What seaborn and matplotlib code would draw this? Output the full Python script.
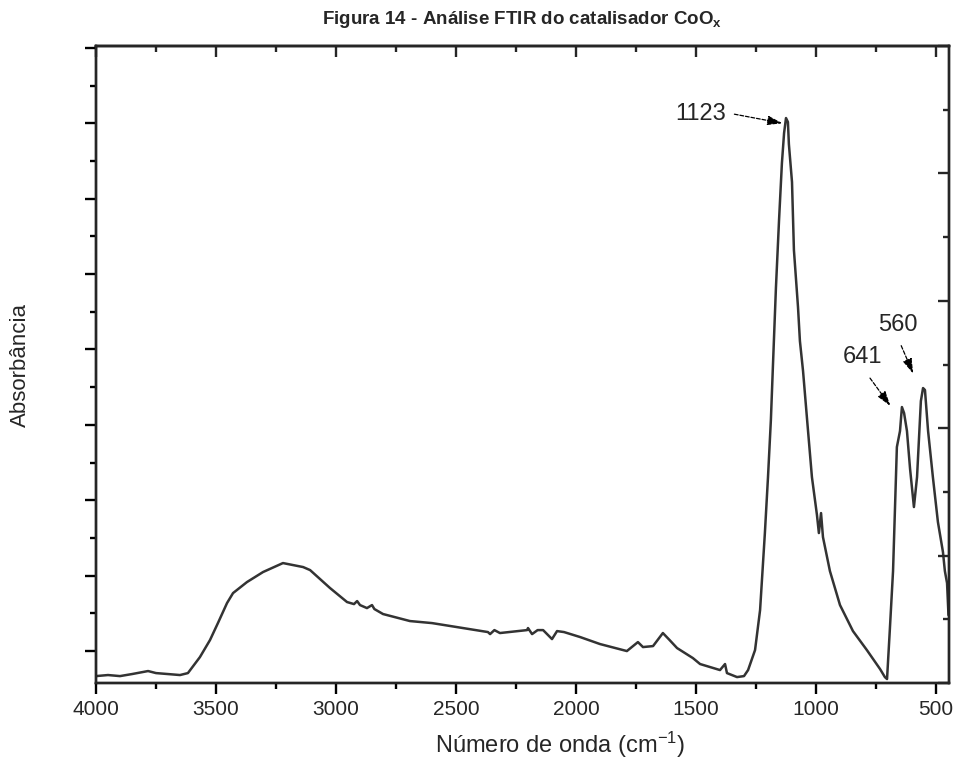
import numpy as np
import pandas as pd
import matplotlib
matplotlib.use("Agg")
import matplotlib.pyplot as plt
from matplotlib.ticker import MultipleLocator, NullFormatter
import seaborn as sns

# Wavenumber (cm-1) and absorbance (arbitrary units)
wavenumber = [4000, 3950, 3900, 3850, 3783, 3750, 3700, 3650, 3617, 3567,
              3525, 3492, 3454, 3429, 3371, 3304, 3221, 3137, 3108, 3025,
              2954, 2925, 2912, 2900, 2871, 2850, 2840, 2804, 2692, 2600,
              2496, 2367, 2358, 2340, 2317, 2204, 2200, 2183, 2160, 2137,
              2100, 2079, 2050, 1983, 1900, 1788, 1742, 1721, 1679, 1638,
              1610, 1579, 1513, 1483, 1400, 1379, 1371, 1329, 1300, 1283,
              1254, 1233, 1213, 1200, 1188, 1179, 1167, 1154, 1142, 1133,
              1125, 1117, 1113, 1100, 1092, 1075, 1067, 1054, 1037, 1017,
              996, 988, 979, 971, 942, 900, 846, 788, 733, 713,
              704, 692, 679, 663, 650, 642, 633, 621, 608, 592,
              579, 571, 563, 554, 546, 533, 513, 492, 471, 463,
              454, 448]
absorbance = [-0.332, -0.318, -0.332, -0.305, -0.265, -0.292, -0.305, -0.318, -0.292, -0.080,
              0.146, 0.371, 0.637, 0.769, 0.915, 1.048, 1.167, 1.114, 1.074, 0.836,
              0.650, 0.623, 0.663, 0.610, 0.570, 0.610, 0.557, 0.491, 0.398, 0.371,
              0.318, 0.252, 0.225, 0.278, 0.239, 0.278, 0.305, 0.225, 0.278, 0.278,
              0.159, 0.265, 0.252, 0.186, 0.093, 0.000, 0.119, 0.053, 0.066, 0.239,
              0.146, 0.040, -0.093, -0.172, -0.252, -0.172, -0.292, -0.345, -0.332, -0.252,
              0.013, 0.544, 1.565, 2.308, 3.064, 3.820, 4.814, 5.716, 6.472, 6.870,
              7.069, 7.016, 6.724, 6.220, 5.318, 4.562, 4.111, 3.714, 3.064, 2.308,
              1.804, 1.565, 1.830, 1.512, 1.061, 0.610, 0.265, 0.013, -0.239, -0.345,
              -0.371, 0.305, 1.061, 2.706, 2.918, 3.236, 3.156, 2.918, 2.414, 1.910,
              2.308, 2.812, 3.316, 3.488, 3.462, 2.918, 2.308, 1.711, 1.313, 1.061,
              0.902, 0.477]

peak_labels = ["1123", "641", "560"]
label_wn = [1480, 808, 658]
label_abs = [7.12, 3.90, 4.33]

xmajor = [4000, 3500, 3000, 2500, 2000, 1500, 1000, 500]

df = pd.DataFrame({"wn": wavenumber, "abs": absorbance})

sns.set_style("ticks")
plt.rcParams["font.family"] = ["Liberation Sans", "DejaVu Sans"]
plt.rcParams["mathtext.fontset"] = "custom"
plt.rcParams["mathtext.rm"] = "Liberation Sans"
plt.rcParams["mathtext.it"] = "Liberation Sans:italic"
plt.rcParams["mathtext.bf"] = "Liberation Sans:bold"

fig = plt.figure(figsize=(9.6, 7.76), dpi=100)
ax = fig.add_axes([0.1, 0.1198, 0.8885, 0.8209])

sns.lineplot(data=df, x="wn", y="abs", ax=ax, color="#333333",
             linewidth=1.8, estimator=None, sort=False)

ax.set_xlim(4000, 446)
ax.set_ylim(-0.424, 8.024)

lw = 1.7
for s in ax.spines.values():
    s.set_linewidth(lw)
    s.set_color("black")
    s.set_visible(True)

ax.xaxis.set_major_locator(MultipleLocator(500))
ax.xaxis.set_minor_locator(MultipleLocator(250))
ax.yaxis.set_major_locator(MultipleLocator(1))
ax.yaxis.set_minor_locator(MultipleLocator(0.5))
ax.set_yticklabels([])
ax.yaxis.set_minor_formatter(NullFormatter())
ax.tick_params(axis="both", which="major", direction="out", length=8, width=1.7,
               color="black")
ax.tick_params(axis="both", which="minor", direction="out", length=4.5, width=1.7,
               color="black")
ax.set_xticks(xmajor)
ax.set_xticklabels([str(v) for v in xmajor], fontsize=15)
ax.tick_params(axis="x", pad=4)
ax.tick_params(axis="y", which="both", labelleft=False)

# top axis ticks (inward)
top = ax.secondary_xaxis("top")
top.xaxis.set_major_locator(MultipleLocator(500))
top.xaxis.set_minor_locator(MultipleLocator(250))
top.tick_params(which="major", direction="in", length=8, width=1.7, labeltop=False)
top.tick_params(which="minor", direction="in", length=4.5, width=1.7)
top.set_xticklabels([])
top.spines["top"].set_linewidth(lw)

# right axis ticks (inward)
rax = ax.twinx()
rax.set_ylim(0, 10)
rax.yaxis.set_major_locator(MultipleLocator(2))
rax.yaxis.set_minor_locator(MultipleLocator(1))
rax.tick_params(which="major", direction="in", length=8, width=1.7, labelright=False)
rax.tick_params(which="minor", direction="in", length=4.5, width=1.7)
rax.set_yticklabels([])
for s in rax.spines.values():
    s.set_linewidth(lw)

ax.set_xlabel("Número de onda (cm$^{\\mathregular{-1}}$)", fontsize=17)
ax.xaxis.set_label_coords(0.544, -0.074)
ax.set_ylabel("Absorbância", fontsize=16)
ax.yaxis.set_label_coords(-0.076, 0.5)
ax.set_title("Figura 14 - Análise FTIR do catalisador CoO$_\\mathregular{x}$",
             fontsize=13.5, fontweight="bold", pad=16)

# peak annotations
for lab, xw, ya in zip(peak_labels, label_wn, label_abs):
    ax.text(xw, ya, lab, fontsize=17, ha="center", va="center")

arrows = [((1340, 7.12), (1140, 7.00)),
          ((775, 3.62), (690, 3.25)),
          ((645, 4.05), (595, 3.68))]
for (s, e) in arrows:
    ax.annotate("", xy=e, xytext=s,
                arrowprops=dict(arrowstyle="-|>,head_length=0.9,head_width=0.28",
                                linestyle=(0, (3, 1.5)), lw=0.9, color="black",
                                shrinkA=0, shrinkB=0))

fig.savefig("out.png", dpi=100)
